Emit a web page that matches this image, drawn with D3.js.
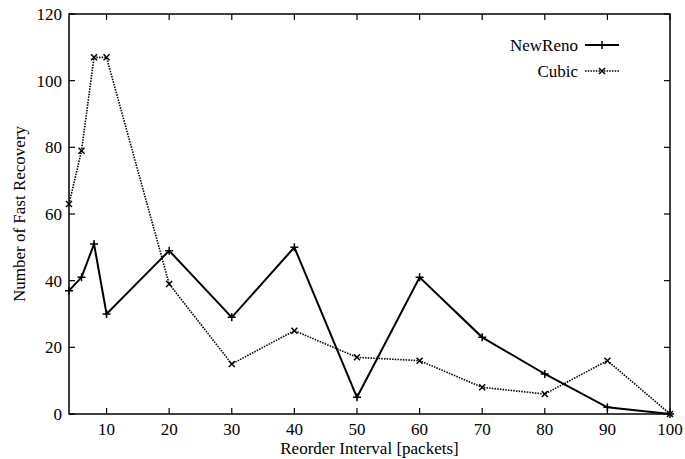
<!DOCTYPE html>
<html>
<head>
<meta charset="utf-8">
<script src="https://cdn.jsdelivr.net/npm/d3@7"></script>
<style>
  body { margin: 0; background: #fff; }
  text { font-family: "Liberation Serif", "Times New Roman", serif; }
</style>
</head>
<body>
<div id="chart"></div>
<script>
var width = 685;
var height = 459;
var margin = {top: 14, right: 15, bottom: 45, left: 69};

// data
var intervals = [4, 6, 8, 10, 20, 30, 40, 50, 60, 70, 80, 90, 100];
var newReno = [37, 41, 51, 30, 49, 29, 50, 5, 41, 23, 12, 2, 0];
var cubic = [63, 79, 107, 107, 39, 15, 25, 17, 16, 8, 6, 16, 0];
var xTicks = [10, 20, 30, 40, 50, 60, 70, 80, 90, 100];
var yTicks = [0, 20, 40, 60, 80, 100, 120];
var seriesNames = ['NewReno', 'Cubic'];

var fontSize = '17px';

var svg = d3.select('#chart')
  .append('svg')
  .attr('width', width)
  .attr('height', height);

var x = d3.scaleLinear().domain([4, 100]).range([margin.left, width - margin.right]);
var y = d3.scaleLinear().domain([0, 120]).range([height - margin.bottom, margin.top]);

var x0 = x.range()[0], x1 = x.range()[1];
var y0 = y.range()[0], y1 = y.range()[1];

// ticks on all four sides, gnuplot style
var tickLen = 6;
var axisG = svg.append('g').attr('stroke', '#000').attr('stroke-width', 1.2);
xTicks.forEach(function(t){
  axisG.append('line').attr('x1', x(t)).attr('x2', x(t)).attr('y1', y0).attr('y2', y0 - tickLen);
  axisG.append('line').attr('x1', x(t)).attr('x2', x(t)).attr('y1', y1).attr('y2', y1 + tickLen);
});
yTicks.forEach(function(t){
  axisG.append('line').attr('x1', x0).attr('x2', x0 + tickLen).attr('y1', y(t)).attr('y2', y(t));
  axisG.append('line').attr('x1', x1).attr('x2', x1 - tickLen).attr('y1', y(t)).attr('y2', y(t));
});

// tick labels
svg.append('g').selectAll('text')
  .data(xTicks).enter().append('text')
  .attr('x', function(d){ return x(d); })
  .attr('y', y0 + 21)
  .attr('text-anchor', 'middle')
  .style('font-size', fontSize)
  .text(function(d){ return d; });
svg.append('g').selectAll('text')
  .data(yTicks).enter().append('text')
  .attr('x', x0 - 7)
  .attr('y', function(d){ return y(d) + 6; })
  .attr('text-anchor', 'end')
  .style('font-size', fontSize)
  .text(function(d){ return d; });

// axis titles
svg.append('text')
  .text('Reorder Interval [packets]')
  .attr('text-anchor', 'middle')
  .attr('x', (x0 + x1) / 2)
  .attr('y', y0 + 40)
  .style('font-size', fontSize);
svg.append('text')
  .text('Number of Fast Recovery')
  .attr('text-anchor', 'middle')
  .attr('transform', 'translate(25,' + ((y0 + y1) / 2) + ')rotate(-90)')
  .style('font-size', fontSize);

var line = d3.line()
  .x(function(d){ return x(d[0]); })
  .y(function(d){ return y(d[1]); });

var renoPts = intervals.map(function(v, i){ return [v, newReno[i]]; });
var cubicPts = intervals.map(function(v, i){ return [v, cubic[i]]; });

svg.append('path')
  .datum(cubicPts)
  .attr('d', line)
  .attr('fill', 'none')
  .attr('stroke', '#000')
  .attr('stroke-width', 1.6)
  .attr('stroke-dasharray', '1.5,1.2');

svg.append('path')
  .datum(renoPts)
  .attr('d', line)
  .attr('fill', 'none')
  .attr('stroke', '#000')
  .attr('stroke-width', 2);

var m = 4;
function plus(g, cx, cy){
  g.append('path')
    .attr('d', 'M' + (cx - m) + ',' + cy + 'H' + (cx + m) + 'M' + cx + ',' + (cy - m) + 'V' + (cy + m))
    .attr('stroke', '#000').attr('stroke-width', 1.5);
}
function cross(g, cx, cy){
  var k = 3;
  g.append('path')
    .attr('d', 'M' + (cx - k) + ',' + (cy - k) + 'L' + (cx + k) + ',' + (cy + k) + 'M' + (cx - k) + ',' + (cy + k) + 'L' + (cx + k) + ',' + (cy - k))
    .attr('stroke', '#000').attr('stroke-width', 1.5);
}

var markG = svg.append('g');
renoPts.forEach(function(d){ plus(markG, x(d[0]), y(d[1])); });
cubicPts.forEach(function(d){ cross(markG, x(d[0]), y(d[1])); });

// frame
svg.append('rect')
  .attr('x', x0).attr('y', y1)
  .attr('width', x1 - x0).attr('height', y0 - y1)
  .attr('fill', 'none').attr('stroke', '#000').attr('stroke-width', 1.5);

// legend
var legend = svg.append('g');
seriesNames.forEach(function(name, i){
  var ly = 45 + i * 26;
  legend.append('text')
    .text(name)
    .attr('x', 578).attr('y', ly + 6)
    .attr('text-anchor', 'end')
    .style('font-size', fontSize);
  legend.append('line')
    .attr('x1', 585).attr('x2', 619).attr('y1', ly).attr('y2', ly)
    .attr('stroke', '#000')
    .attr('stroke-width', i == 0 ? 2 : 1.6)
    .attr('stroke-dasharray', i == 0 ? null : '1.5,1.2');
  if(i == 0) plus(legend, 602, ly); else cross(legend, 602, ly);
});
</script>
</body>
</html>
